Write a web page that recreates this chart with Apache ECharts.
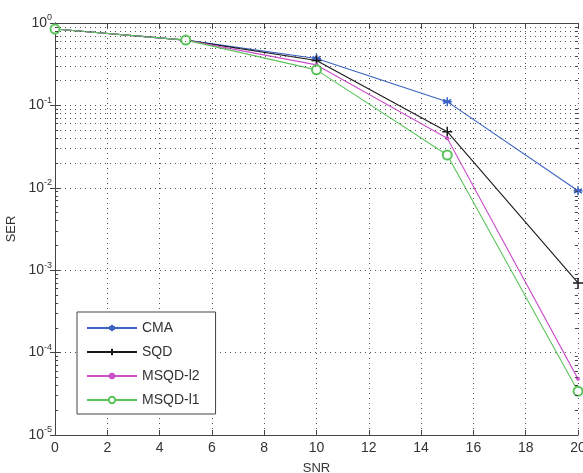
<!DOCTYPE html>
<html>
<head>
<meta charset="utf-8">
<script src="https://cdn.jsdelivr.net/npm/echarts@6/dist/echarts.min.js"></script>
<style>html,body{margin:0;padding:0;background:#fff}#c{width:583px;height:473px}</style>
</head>
<body>
<div id="c"></div>
<script>
const snr = [0, 5, 10, 15, 20];
const cma = [0.845, 0.62, 0.37, 0.111, 0.0092];
const sqd = [0.845, 0.62, 0.35, 0.048, 0.0007];
const msqdL2 = [0.845, 0.62, 0.31, 0.040, 0.000048];
const msqdL1 = [0.845, 0.62, 0.27, 0.025, 0.000034];
const seriesNames = ['CMA', 'SQD', 'MSQD-l2', 'MSQD-l1'];
const xTicks = [0, 2, 4, 6, 8, 10, 12, 14, 16, 18, 20];
const decades = [-5, -4, -3, -2, -1, 0];
const minorMultipliers = [2, 3, 4, 5, 6, 7, 8, 9];

const minorValues = [];
decades.slice(0, -1).forEach(e => minorMultipliers.forEach(m => minorValues.push(m * Math.pow(10, e))));

const font = '"Liberation Sans", Arial, sans-serif';
const chart = echarts.init(document.getElementById('c'));

function pairs(ys) { return snr.map((x, i) => [x, ys[i]]); }

const gridDot = { color: '#555', width: 1, type: [1, 4] };

const minorGrid = minorValues.map(v => ({ yAxis: v }));
const minorTicks = [];
minorValues.forEach(v => {
  minorTicks.push([{ coord: [xTicks[0], v] }, { coord: [0.12, v] }]);
  minorTicks.push([{ coord: [19.88, v] }, { coord: [xTicks[xTicks.length - 1], v] }]);
});

const star = 'path://M0,-10L0,10M-8.7,-5L8.7,5M-8.7,5L8.7,-5M-10,0L10,0';
const plus = 'path://M0,-10L0,10M-10,0L10,0';

const colors = ['#3b62c4', '#1a1a1a', '#cc4fcc', '#5cc45c'];

chart.setOption({
  animation: false,
  textStyle: { fontFamily: font },
  grid: { left: 55, right: 5, top: 23, bottom: 38, containLabel: false, outerBoundsMode: 'none' },
  legend: {
    data: seriesNames,
    orient: 'vertical',
    left: 77, top: 312,
    padding: [8, 16, 6, 9],
    itemWidth: 50, itemHeight: 8, itemGap: 8,
    backgroundColor: '#fff',
    borderColor: '#444', borderWidth: 1,
    textStyle: { fontFamily: font, fontSize: 14, color: '#333', lineHeight: 16 }
  },
  xAxis: [{
    type: 'value', min: 0, max: 20, interval: 2,
    name: 'SNR', nameLocation: 'middle', nameGap: 27,
    nameTextStyle: { fontFamily: font, fontSize: 13, color: '#333' },
    axisLine: { lineStyle: { color: '#444' } },
    axisTick: { inside: true, length: 5, lineStyle: { color: '#444' } },
    axisLabel: { fontFamily: font, fontSize: 14, color: '#333', margin: 6 },
    splitLine: { show: true, lineStyle: gridDot }
  }, {
    type: 'value', min: 0, max: 20, interval: 2, position: 'top',
    axisLine: { show: true, lineStyle: { color: '#444' } },
    axisTick: { inside: true, length: 5, lineStyle: { color: '#444' } },
    axisLabel: { show: false }, splitLine: { show: false }
  }],
  yAxis: [{
    type: 'log', logBase: 10, min: 1e-5, max: 1,
    name: 'SER', nameLocation: 'middle', nameGap: 37,
    nameTextStyle: { fontFamily: font, fontSize: 13, color: '#333' },
    axisLine: { show: true, lineStyle: { color: '#444' } },
    axisTick: { inside: true, length: 5, lineStyle: { color: '#444' } },
    axisLabel: {
      margin: 3,
      formatter: v => '{b|10}{s|' + Math.round(Math.log10(v)) + '}',
      rich: {
        b: { fontFamily: font, fontSize: 14, color: '#333' },
        s: { fontFamily: font, fontSize: 9, color: '#333', verticalAlign: 'top', padding: [0, 0, 10, 0] }
      }
    },
    splitLine: { show: true, lineStyle: gridDot }
  }, {
    type: 'log', logBase: 10, min: 1e-5, max: 1, position: 'right',
    axisLine: { show: true, lineStyle: { color: '#444' } },
    axisTick: { inside: true, length: 5, lineStyle: { color: '#444' } },
    axisLabel: { show: false }, splitLine: { show: false }
  }],
  series: [
    {
      name: 'grid', type: 'line', data: [], silent: true,
      markLine: { silent: true, symbol: 'none', label: { show: false },
        lineStyle: gridDot, data: minorGrid }
    },
    {
      name: 'ticks', type: 'line', data: [], silent: true,
      markLine: { silent: true, symbol: 'none', label: { show: false },
        lineStyle: { color: '#444', width: 1, type: 'solid' }, data: minorTicks }
    },
    {
      name: 'CMA', type: 'line', data: pairs(cma), color: colors[0],
      lineStyle: { width: 1.1, color: colors[0] },
      symbol: star, symbolSize: 9,
      itemStyle: { color: colors[0], borderColor: colors[0], borderWidth: 1.5 }
    },
    {
      name: 'SQD', type: 'line', data: pairs(sqd), color: colors[1],
      lineStyle: { width: 1.1, color: colors[1] },
      symbol: plus, symbolSize: 10,
      itemStyle: { color: colors[1], borderColor: colors[1], borderWidth: 1.5 }
    },
    {
      name: 'MSQD-l2', type: 'line', data: pairs(msqdL2), color: colors[2],
      lineStyle: { width: 1.1, color: colors[2] },
      symbol: 'circle', symbolSize: 4,
      itemStyle: { color: colors[2], borderColor: colors[2], borderWidth: 0 }
    },
    {
      name: 'MSQD-l1', type: 'line', data: pairs(msqdL1), color: colors[3],
      lineStyle: { width: 1.1, color: colors[3] },
      symbol: 'emptyCircle', symbolSize: 9,
      itemStyle: { color: colors[3], borderColor: colors[3], borderWidth: 1.2 }
    }
  ]
});
</script>
</body>
</html>
